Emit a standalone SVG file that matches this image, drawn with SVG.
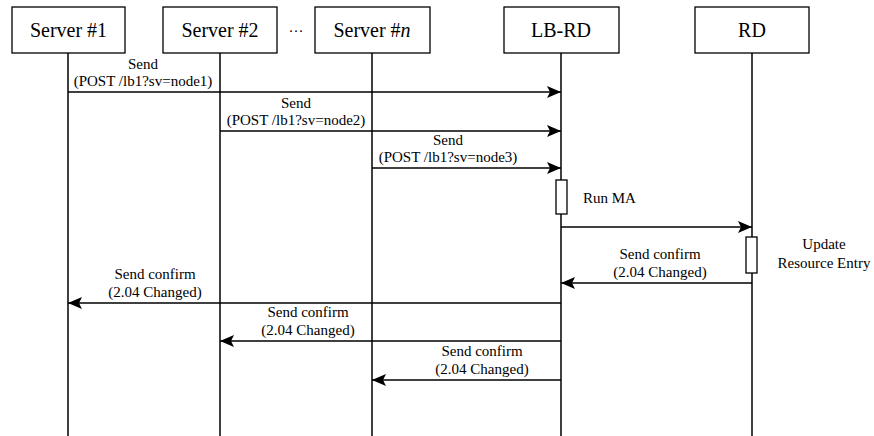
<svg xmlns="http://www.w3.org/2000/svg" width="874" height="436" viewBox="0 0 874 436">
<style>
.box{fill:#fff;stroke:#000;stroke-width:1.3}
.life{stroke:#000;stroke-width:1.5}
.msg{stroke:#000;stroke-width:1.5;fill:none;marker-end:url(#ah)}
.act{fill:#fff;stroke:#000;stroke-width:1.3}
text{font-family:'Liberation Serif','Times New Roman',serif;fill:#000}
.h{font-size:20px;text-anchor:middle}
.l{font-size:15px;text-anchor:middle}
</style>
<defs>
<marker id="ah" viewBox="0 0 14 12" refX="14" refY="6" markerWidth="14" markerHeight="12" markerUnits="userSpaceOnUse" orient="auto">
<path d="M0,0 L14,6 L0,12 L3,6 z" fill="#000"/>
</marker>
</defs>
<g id="lifelines">
<line class="life" x1="68" y1="53" x2="68" y2="436"/>
<line class="life" x1="220" y1="53" x2="220" y2="436"/>
<line class="life" x1="372" y1="53" x2="372" y2="436"/>
<line class="life" x1="561" y1="53" x2="561" y2="436"/>
<line class="life" x1="752" y1="53" x2="752" y2="436"/>
</g>
<g id="server1"><rect class="box" x="12" y="7" width="113" height="46"/><text class="h" x="68.5" y="37">Server #1</text></g>
<g id="server2"><rect class="box" x="163" y="7" width="114" height="46"/><text class="h" x="220" y="37">Server #2</text></g>
<text x="296" y="36" font-size="15" text-anchor="middle">···</text>
<g id="servern"><rect class="box" x="315" y="7" width="115" height="46"/><text class="h" x="372" y="37">Server #<tspan font-style="italic">n</tspan></text></g>
<g id="lbrd"><rect class="box" x="504" y="7" width="115" height="46"/><text class="h" x="561" y="37">LB-RD</text></g>
<g id="rd"><rect class="box" x="695" y="7" width="114" height="46"/><text class="h" x="752" y="37">RD</text></g>
<g id="activations">
<rect class="act" x="556" y="180" width="11" height="34"/>
<rect class="act" x="746" y="237" width="11" height="36"/>
</g>
<g id="connectors">
<line class="msg" x1="68" y1="92" x2="561" y2="92"/>
<line class="msg" x1="220" y1="131" x2="561" y2="131"/>
<line class="msg" x1="372" y1="168" x2="561" y2="168"/>
<line class="msg" x1="561" y1="227" x2="752" y2="227"/>
<line class="msg" x1="752" y1="283" x2="561" y2="283"/>
<line class="msg" x1="561" y1="303" x2="68" y2="303"/>
<line class="msg" x1="561" y1="341" x2="220" y2="341"/>
<line class="msg" x1="561" y1="380" x2="372" y2="380"/>
</g>
<g id="labels">
<text class="l" x="143" y="69">Send</text>
<text class="l" x="143" y="86">(POST /lb1?sv=node1)</text>
<text class="l" x="296" y="108">Send</text>
<text class="l" x="296" y="125">(POST /lb1?sv=node2)</text>
<text class="l" x="448" y="145">Send</text>
<text class="l" x="448" y="162">(POST /lb1?sv=node3)</text>
<text x="583" y="203" font-size="15">Run MA</text>
<text class="l" x="824" y="249">Update</text>
<text class="l" x="824" y="268">Resource Entry</text>
<text class="l" x="660" y="259">Send confirm</text>
<text class="l" x="660" y="277">(2.04 Changed)</text>
<text class="l" x="155" y="279">Send confirm</text>
<text class="l" x="155" y="297">(2.04 Changed)</text>
<text class="l" x="308" y="317">Send confirm</text>
<text class="l" x="308" y="335">(2.04 Changed)</text>
<text class="l" x="482" y="356">Send confirm</text>
<text class="l" x="482" y="374">(2.04 Changed)</text>
</g>
</svg>
